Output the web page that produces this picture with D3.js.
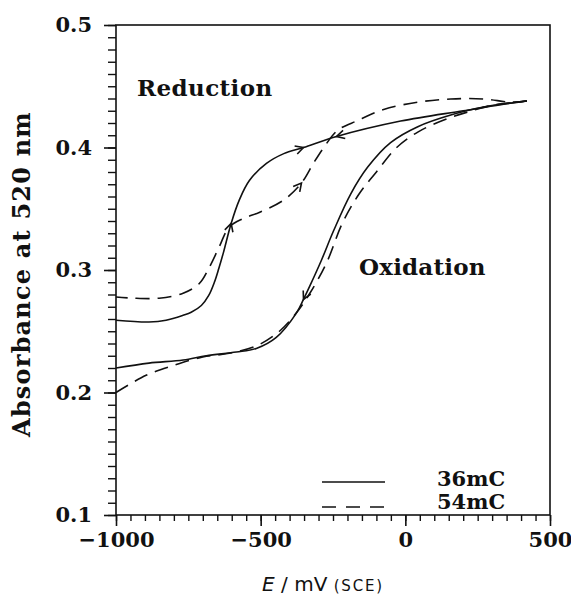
<!DOCTYPE html>
<html><head><meta charset="utf-8">
<script src="https://cdn.jsdelivr.net/npm/d3@7"></script>
<style>
html,body{margin:0;padding:0;background:#fff;}
svg{display:block;}
</style>
</head><body>
<svg id="chart" width="571" height="595"></svg>
<script>
(function () {
// ---- data (E in mV vs SCE, absorbance at 520 nm) ----
const xTicks = [-1000, -500, 0, 500];
const yTicks = [0.1, 0.2, 0.3, 0.4, 0.5];
const seriesNames = ["36mC", "54mC"];

// 36 mC, reduction sweep (from positive end going negative)
const red36E = [420, 330, 200, -16, -238, -352, -420, -480, -539, -574, -602, -629, -645, -660, -680, -705, -740, -768, -827, -886, -1000];
const red36A = [0.438, 0.435, 0.430, 0.4216, 0.409, 0.400, 0.395, 0.387, 0.373, 0.357, 0.338, 0.314, 0.301, 0.290, 0.279, 0.271, 0.2655, 0.263, 0.259, 0.2576, 0.259];
// 36 mC, oxidation sweep
const ox36E = [-1000, -886, -768, -688, -584, -515, -446, -376, -352, -330, -290, -248, -189, -130, -51, 43, 157, 271, 354, 420];
const ox36A = [0.220, 0.224, 0.2265, 0.230, 0.233, 0.236, 0.245, 0.265, 0.276, 0.287, 0.308, 0.332, 0.362, 0.384, 0.404, 0.417, 0.4265, 0.433, 0.436, 0.438];
// 54 mC, reduction sweep
const red54E = [420, 365, 271, 157, 43, -75, -165, -234, -283, -318, -359, -421, -505, -560, -609, -643, -678, -712, -768, -851, -941, -1000];
const red54A = [0.438, 0.437, 0.4396, 0.4396, 0.437, 0.431, 0.422, 0.414, 0.3996, 0.387, 0.371, 0.357, 0.347, 0.342, 0.335, 0.319, 0.302, 0.289, 0.281, 0.277, 0.277, 0.278];
// 54 mC, oxidation sweep
const ox54E = [-1000, -896, -802, -700, -609, -515, -435, -380, -330, -272, -218, -160, -100, -30, 43, 133, 216, 306, 380, 420];
const ox54A = [0.200, 0.214, 0.222, 0.229, 0.232, 0.238, 0.250, 0.264, 0.281, 0.306, 0.338, 0.362, 0.380, 0.400, 0.4126, 0.4224, 0.429, 0.4347, 0.437, 0.438];

// arrowheads: curve, index of data point, direction (+1 along list order, -1 against)
const arrowCurve = ["red36", "red36", "red36", "ox36", "red54"];
const arrowIndex = [4, 5, 10, 8, 10];
const arrowDir = [1, -1, -1, -1, -1];

// ---- chart ----
const svg = d3.select("#chart");
const mL = 116, mR = 550, mT = 25, mB = 515;
const x = d3.scaleLinear().domain([-1000, 500]).range([mL, mR]);
const y = d3.scaleLinear().domain([0.1, 0.5]).range([mB, mT]);

const serif = "'DejaVu Serif', serif";

function zip(E, A) { return E.map((e, i) => [e, A[i]]); }
const curves = {
  red36: zip(red36E, red36A),
  ox36: zip(ox36E, ox36A),
  red54: zip(red54E, red54A),
  ox54: zip(ox54E, ox54A)
};

const line = d3.line().x(d => x(d[0])).y(d => y(d[1])).curve(d3.curveCatmullRom.alpha(0.5));

const g = svg.append("g");
[["red36", null], ["ox36", null], ["red54", "14,8"], ["ox54", "14,8"]].forEach(([k, dash]) => {
  g.append("path").attr("d", line(curves[k]))
    .attr("fill", "none").attr("stroke", "#111").attr("stroke-width", 1.6)
    .attr("stroke-dasharray", dash);
});

// arrowheads (chevrons)
arrowCurve.forEach((k, j) => {
  const pts = curves[k], i = arrowIndex[j], d = arrowDir[j];
  const p = pts[i];
  const a = pts[Math.max(0, i - 1)], b = pts[Math.min(pts.length - 1, i + 1)];
  let dx = (x(b[0]) - x(a[0])) * d, dy = (y(b[1]) - y(a[1])) * d;
  const len = Math.hypot(dx, dy); dx /= len; dy /= len;
  const px = x(p[0]), py = y(p[1]);
  const L = 9, ang = 28 * Math.PI / 180;
  const bx = -dx, by = -dy;
  const r1 = [bx * Math.cos(ang) - by * Math.sin(ang), bx * Math.sin(ang) + by * Math.cos(ang)];
  const r2 = [bx * Math.cos(-ang) - by * Math.sin(-ang), bx * Math.sin(-ang) + by * Math.cos(-ang)];
  g.append("path")
    .attr("d", `M${px + r1[0] * L},${py + r1[1] * L}L${px},${py}L${px + r2[0] * L},${py + r2[1] * L}`)
    .attr("fill", "none").attr("stroke", "#111").attr("stroke-width", 1.6);
});

// frame
svg.append("rect").attr("x", mL).attr("y", mT).attr("width", mR - mL).attr("height", mB - mT)
  .attr("fill", "none").attr("stroke", "#111").attr("stroke-width", 1.6);

// y axis
const yMinor = d3.range(0.1, 0.5001, 0.01);
svg.append("g").attr("transform", `translate(${mL},0)`)
  .call(d3.axisLeft(y).tickValues(yMinor).tickSize(8).tickFormat(""))
  .call(s => s.select(".domain").remove())
  .call(s => s.selectAll("line").attr("stroke", "#111").attr("stroke-width", 1.4));
svg.append("g").attr("transform", `translate(${mL},0)`)
  .call(d3.axisLeft(y).tickValues(yTicks).tickSize(12).tickPadding(12).tickFormat(d3.format(".1f")))
  .call(s => s.select(".domain").remove())
  .call(s => s.selectAll("line").attr("stroke", "#111").attr("stroke-width", 1.6))
  .call(s => s.selectAll("text").attr("font-family", serif).attr("font-weight", "bold").attr("font-size", 21).attr("fill", "#111"));

// x axis
const xMinor = d3.range(-1000, 500.1, 50);
svg.append("g").attr("transform", `translate(0,${mB})`)
  .call(d3.axisBottom(x).tickValues(xMinor).tickSize(6).tickFormat(""))
  .call(s => s.select(".domain").remove())
  .call(s => s.selectAll("line").attr("stroke", "#111").attr("stroke-width", 1.4));
svg.append("g").attr("transform", `translate(0,${mB})`)
  .call(d3.axisBottom(x).tickValues(xTicks).tickSize(11).tickPadding(6).tickFormat(d3.format("d")))
  .call(s => s.select(".domain").remove())
  .call(s => s.selectAll("line").attr("stroke", "#111").attr("stroke-width", 1.6))
  .call(s => s.selectAll("text").attr("font-family", serif).attr("font-weight", "bold").attr("font-size", 21).attr("fill", "#111"));

// axis titles
svg.append("text")
  .attr("transform", `translate(30,274) rotate(-90)`)
  .attr("text-anchor", "middle")
  .attr("font-family", serif).attr("font-weight", "bold").attr("font-size", 24)
  .attr("letter-spacing", 1.2).attr("fill", "#111")
  .text("Absorbance at 520 nm");

const xt = svg.append("text").attr("x", 323).attr("y", 591).attr("text-anchor", "middle")
  .attr("font-family", "'DejaVu Sans', sans-serif").attr("font-size", 20).attr("fill", "#111");
xt.append("tspan").attr("font-style", "italic").text("E");
xt.append("tspan").text(" / mV ");
xt.append("tspan").attr("font-size", 15).attr("letter-spacing", 1.8).text("(SCE)");

// annotations
svg.append("text").attr("x", 137).attr("y", 96)
  .attr("font-family", serif).attr("font-weight", "bold").attr("font-size", 23)
  .attr("letter-spacing", 0.4).attr("fill", "#111")
  .text("Reduction");
svg.append("text").attr("x", 359).attr("y", 275)
  .attr("font-family", serif).attr("font-weight", "bold").attr("font-size", 23)
  .attr("letter-spacing", 0.2).attr("fill", "#111")
  .text("Oxidation");

// legend
const lg = svg.append("g");
seriesNames.forEach((name, i) => {
  const ly = 482 + i * 25;
  lg.append("line").attr("x1", 322).attr("x2", 385).attr("y1", ly).attr("y2", ly)
    .attr("stroke", "#111").attr("stroke-width", 1.6)
    .attr("stroke-dasharray", i === 1 ? "14,10" : null);
  lg.append("text").attr("x", 437).attr("y", ly + 4 - i * 2)
    .attr("font-family", serif).attr("font-weight", "bold").attr("font-size", 21).attr("fill", "#111")
    .text(name);
});
})();
</script>
</body></html>
